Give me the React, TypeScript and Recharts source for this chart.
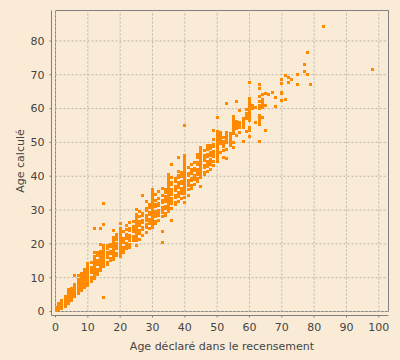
import React from 'react';
import { ScatterChart, Scatter, XAxis, YAxis, ReferenceLine, ReferenceArea } from 'recharts';

// Declared age (x) -> list of computed ages (y)
const ages0to9: [number, number[]][] = [
  [0, [0, 0.4, 0.8, 1.2]],
  [1, [0, 0.5, 1.1, 1.7, 2.3]],
  [2, [0.8, 1.4, 2.0, 2.6, 3.2]],
  [3, [1.5, 2.1, 2.7, 3.3, 3.9, 4.5]],
  [4, [2.3, 2.9, 3.5, 4.1, 4.7, 5.3, 5.9, 6.6]],
  [5, [3.3, 3.9, 4.5, 5.1, 5.7, 6.3, 6.9]],
  [6, [4.4, 5.0, 5.6, 6.2, 6.8, 7.4, 8.0, 10.6]],
  [7, [5.3, 5.9, 6.5, 7.1, 7.7, 8.3, 8.9, 9.5, 10.7]],
  [8, [6.2, 6.8, 7.4, 8.0, 8.6, 9.2, 9.8, 10.4, 11.2]],
  [9, [7.0, 7.6, 8.2, 8.8, 9.4, 10.0, 10.6, 11.2, 11.8, 12.4]],
];

const ages10to19: [number, number[]][] = [
  [10, [7.8, 8.5, 9.2, 9.9, 10.6, 11.3, 12.0, 12.7, 13.4, 14.2]],
  [11, [8.8, 9.5, 10.2, 11.6, 12.3, 13.0, 14.4]],
  [12, [9.8, 10.5, 11.2, 11.9, 12.6, 13.3, 14.0, 14.7, 15.4, 16.2, 17.5, 24.4]],
  [13, [11.0, 11.7, 12.4, 13.8, 14.5, 15.2, 16.6, 17.4]],
  [14, [12.2, 12.9, 13.6, 14.3, 15.0, 15.7, 16.4, 17.1, 17.8, 19.8, 24.4]],
  [15, [4.1, 13.2, 13.9, 14.6, 15.3, 16.0, 16.7, 17.4, 18.1, 18.8, 19.5, 25.6, 31.8]],
  [16, [13.8, 14.5, 15.9, 16.6, 17.3, 18.7, 19.4]],
  [17, [15.0, 15.7, 17.1, 17.8, 19.2, 19.9]],
  [18, [15.5, 16.2, 16.9, 17.6, 18.3, 19.0, 19.7, 20.4, 21.1, 22.0, 23.9]],
  [19, [16.5, 17.2, 18.6, 19.3, 20.0, 21.4, 22.1, 22.8]],
];

const ages20to29: [number, number[]][] = [
  [20, [16.2, 16.9, 17.6, 18.3, 19.0, 19.7, 20.4, 21.1, 21.8, 22.5, 23.2, 23.9, 24.6, 26.0]],
  [21, [17.5, 18.2, 18.9, 20.3, 21.0, 21.7, 23.6]],
  [22, [18.7, 19.4, 20.1, 21.5, 22.2, 22.9, 24.3, 25.5]],
  [23, [19.0, 19.7, 21.1, 21.8, 22.5, 23.9, 24.6, 26.3]],
  [24, [20.9, 21.6, 22.3, 23.7, 24.4, 25.1, 26.5]],
  [25, [19.5, 21.0, 21.7, 22.4, 23.1, 23.8, 24.5, 25.2, 25.9, 26.6, 27.3, 28.0, 28.7, 30.2]],
  [26, [21.4, 23.2, 23.9, 25.3, 26.0, 26.7, 28.1, 29.5]],
  [27, [22.5, 24.2, 24.9, 26.3, 27.0, 28.4, 29.1, 34.3]],
  [28, [23.5, 24.9, 25.6, 27.0, 27.7, 28.4, 29.8, 30.5, 32.5]],
  [29, [24.5, 25.9, 26.6, 27.3, 28.7, 29.4, 30.8, 31.5]],
];

const ages30to39: [number, number[]][] = [
  [30, [24.8, 25.5, 26.2, 26.9, 27.6, 28.3, 29.0, 29.7, 30.4, 31.1, 31.8, 32.5, 33.2, 33.9, 34.6, 35.3, 36.0]],
  [31, [26.0, 26.7, 28.1, 28.8, 29.5, 30.9, 31.6, 32.8, 34.5]],
  [32, [27.0, 28.4, 29.1, 29.8, 31.2, 31.9, 33.3, 35.5]],
  [33, [20.5, 23.6, 28.0, 29.4, 30.1, 30.8, 32.2, 32.9, 34.3, 36.5]],
  [34, [28.3, 29.0, 30.4, 31.1, 32.5, 33.2, 33.9, 35.3, 36.0]],
  [35, [29.6, 30.5, 31.2, 31.9, 32.6, 33.3, 34.0, 34.7, 35.4, 36.1, 36.8, 37.5, 38.2, 38.9, 39.6, 40.5]],
  [36, [27.0, 30.5, 31.9, 32.6, 33.3, 34.7, 35.4, 36.1, 37.5, 38.2, 39.5, 43.6]],
  [37, [31.5, 32.2, 33.6, 34.3, 35.7, 36.4, 37.1, 38.5, 39.2]],
  [38, [32.5, 33.9, 34.6, 35.3, 36.7, 37.4, 38.1, 39.5, 40.2, 41.5, 45.6]],
  [39, [33.5, 34.9, 35.6, 36.3, 37.7, 38.4, 39.8, 40.5, 41.2]],
];

const ages40to49: [number, number[]][] = [
  [40, [32.3, 33.8, 35.0, 35.7, 36.4, 37.1, 37.8, 38.5, 39.2, 39.9, 40.6, 41.3, 42.0, 42.7, 43.4, 44.1, 44.8, 45.5, 46.2, 55.0]],
  [41, [34.3, 36.0, 37.4, 38.1, 38.8, 40.2, 40.9, 42.6]],
  [42, [36.5, 37.2, 38.6, 39.3, 40.7, 41.4, 42.1, 43.5]],
  [43, [37.5, 38.9, 39.6, 40.3, 41.7, 42.4, 44.0]],
  [44, [38.5, 39.2, 40.6, 41.3, 42.0, 43.4, 44.1, 45.5, 46.5]],
  [45, [37.0, 39.5, 40.2, 40.9, 41.6, 42.3, 43.0, 43.7, 44.4, 45.1, 45.8, 46.5, 47.2, 47.9, 48.6]],
  [46, [40.5, 41.2, 42.6, 43.3, 44.7, 45.4, 46.1, 47.5]],
  [47, [41.5, 42.9, 43.6, 44.3, 45.7, 46.4, 47.8, 48.5, 49.2]],
  [48, [42.0, 43.4, 44.1, 44.8, 46.2, 46.9, 48.3, 49.0]],
  [49, [43.1, 44.5, 45.9, 46.6, 47.3, 48.7, 49.4, 51.0, 53.4]],
];

const ages50to59: [number, number[]][] = [
  [50, [44.5, 45.2, 45.9, 46.6, 47.3, 48.0, 48.7, 49.4, 50.1, 50.8, 51.5, 52.2, 53.3, 57.4]],
  [51, [47.0, 49.6, 50.3, 51.0, 51.7, 52.4, 53.0]],
  [52, [45.4, 47.6, 48.8, 49.5, 50.2, 51.5]],
  [53, [45.3, 48.0, 50.0, 50.7, 51.4, 52.1, 52.8, 61.4]],
  [54, [49.0, 49.7, 50.4, 51.1, 51.8, 52.5]],
  [55, [48.5, 50.0, 52.5, 53.2, 53.9, 54.6, 55.3, 56.0, 56.7, 57.8]],
  [56, [52.0, 54.0, 54.7, 55.4, 56.1, 62.0]],
  [57, [53.0, 54.5, 55.2, 55.9, 59.3]],
  [58, [50.4, 54.4, 55.1, 55.8, 56.5, 57.2]],
  [59, [53.3, 57.2, 57.9, 58.6, 59.6]],
];

const ages60plus: [number, number[]][] = [
  [60, [51.6, 53.6, 54.4, 56.6, 57.3, 58.0, 58.7, 59.4, 60.1, 60.8, 61.5, 62.2, 62.9, 67.7]],
  [61, [60.0, 61.0]],
  [62, [56.0, 60.2]],
  [63, [50.4, 55.2, 56.2, 57.0, 58.1, 60.0, 61.0, 62.0, 63.7, 65.8, 67.0]],
  [64, [57.3, 60.3, 61.2, 62.0, 62.6, 64.3]],
  [65, [53.4, 60.8, 64.6]],
  [66, [64.3]],
  [67, [64.9]],
  [68, [60.5, 63.4]],
  [70, [62.5, 64.4, 64.9, 67.3, 68.5]],
  [71, [62.8, 69.7]],
  [72, [67.6, 69.1]],
  [73, [68.5]],
  [75, [67.0, 70.2]],
  [77, [71.1, 72.9]],
  [78, [70.2, 76.7]],
  [79, [67.0]],
  [83, [84.4]],
  [98, [71.7]],
];

const xTicks = [0, 10, 20, 30, 40, 50, 60, 70, 80, 90, 100];
const yTicks = [0, 10, 20, 30, 40, 50, 60, 70, 80];
const xMax = 103;
const yMax = 89;

const xTitle = 'Age déclaré dans le recensement';
const yTitle = 'Age calculé';

const columns = [...ages0to9, ...ages10to19, ...ages20to29, ...ages30to39, ...ages40to49, ...ages50to59, ...ages60plus];
const points = columns.flatMap(([x, ys]) => ys.map((y) => ({ x, y })));

const BG = '#FAEBD7';
const ORANGE = '#FF8A00';
const GREY = '#808080';
const GRID = '#bcb5ab';
const TEXT = '#444444';
const FONT = 'DejaVu Sans, sans-serif';

const Square = (props: any) => {
  const { cx, cy } = props;
  if (cx == null || cy == null) return null;
  return (
    <rect
      x={Math.round(cx - 1.5)}
      y={Math.round(cy - 1.5)}
      width={3}
      height={3}
      fill={ORANGE}
      shapeRendering="crispEdges"
    />
  );
};

export default function App() {
  return (
    <div style={{ position: 'fixed', left: 0, top: 0, width: 400, height: 360, background: BG }}>
      <ScatterChart width={400} height={360} margin={{ top: 10.5, right: 11.5, bottom: 14.5, left: 0 }}>
        {xTicks.map((t) => (
          <ReferenceLine
            key={'gx' + t}
            segment={[{ x: t, y: 0 }, { x: t, y: yMax }]}
            stroke={GRID}
            strokeDasharray="2 2"
            strokeWidth={1}
          />
        ))}
        {yTicks.map((t) => (
          <ReferenceLine
            key={'gy' + t}
            segment={[{ x: 0, y: t }, { x: xMax, y: t }]}
            stroke={GRID}
            strokeDasharray="2 2"
            strokeWidth={1}
          />
        ))}
        <XAxis
          type="number"
          dataKey="x"
          domain={[0, xMax]}
          ticks={xTicks}
          allowDataOverflow
          padding={{ left: 4, right: 0 }}
          height={30}
          tickSize={2}
          tickMargin={6}
          axisLine={{ stroke: GREY }}
          tickLine={{ stroke: GREY }}
          tick={{ fill: TEXT, fontSize: 11, fontFamily: FONT }}
          label={{
            content: (p: any) => {
              const vb = p.viewBox || {};
              return (
                <text
                  x={vb.x + vb.width / 2 + 2}
                  y={vb.y + 34}
                  textAnchor="middle"
                  fill={TEXT}
                  fontSize={11}
                  fontFamily={FONT}
                >
                  {xTitle}
                </text>
              );
            },
          }}
        />
        <YAxis
          type="number"
          dataKey="y"
          domain={[0, yMax]}
          ticks={yTicks}
          allowDataOverflow
          padding={{ top: 0, bottom: 4 }}
          width={51.5}
          tickSize={2}
          tickMargin={5}
          axisLine={{ stroke: GREY }}
          tickLine={{ stroke: GREY }}
          tick={{ fill: TEXT, fontSize: 11, fontFamily: FONT }}
          label={{
            content: (p: any) => {
              const vb = p.viewBox || {};
              const cx = 23.5;
              const cy = vb.y + (vb.height - 4) / 2;
              return (
                <text
                  x={cx}
                  y={cy}
                  textAnchor="middle"
                  transform={`rotate(-90, ${cx}, ${cy})`}
                  fill={TEXT}
                  fontSize={11}
                  fontFamily={FONT}
                >
                  {yTitle}
                </text>
              );
            },
          }}
        />
        <Scatter data={points} shape={<Square />} isAnimationActive={false} />
        <ReferenceArea x1={0} x2={xMax} y1={0} y2={yMax} fill="none" stroke={GREY} strokeWidth={1} />
      </ScatterChart>
    </div>
  );
}
